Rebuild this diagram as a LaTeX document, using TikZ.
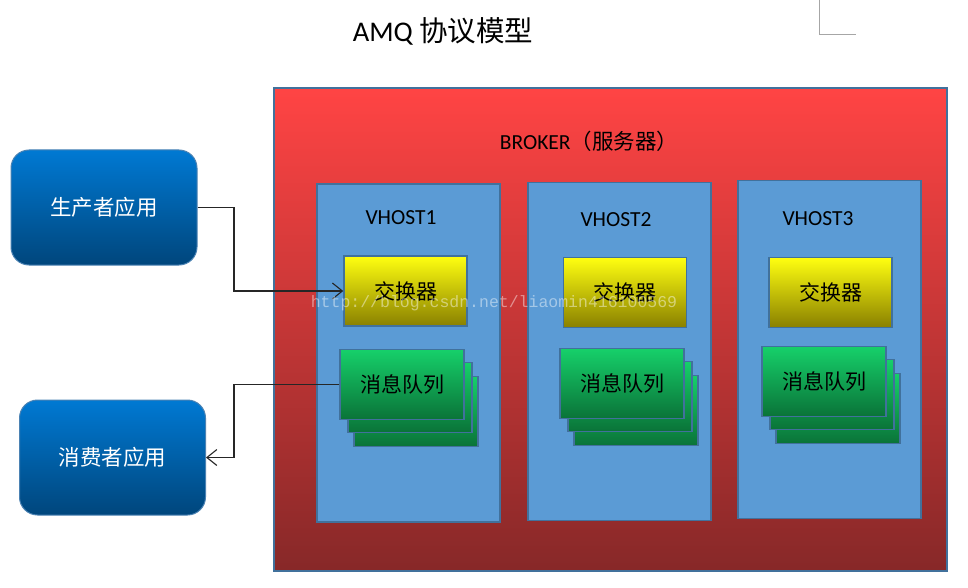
\documentclass[tikz,border=0pt]{standalone}
\usepackage{fontspec}
\setmainfont{Carlito}
\newfontfamily\cjk{Noto Sans CJK SC}
\newfontfamily\wmfont{Liberation Mono}
\usepackage{tikz}
\usepackage{xcolor}
\usetikzlibrary{arrows.meta, positioning, calc}

\definecolor{edgeblue}{HTML}{41719C}
\definecolor{hostblue}{HTML}{5B9BD5}

\begin{document}
\begin{tikzpicture}[x=1pt, y=-1pt,
    appbox/.style={draw=edgeblue!60!hostblue, line width=1pt, rounded corners=18pt,
        top color={rgb,255:red,0;green,121;blue,211}, bottom color={rgb,255:red,0;green,70;blue,124},
        minimum width=186pt, minimum height=115pt, text=white,
        font=\cjk\fontsize{21.5}{24}\selectfont},
    hostbox/.style={draw=edgeblue, line width=1.5pt, fill=hostblue,
        minimum width=183pt, minimum height=338pt},
    exbox/.style={draw=edgeblue, line width=1.5pt,
        top color={rgb,255:red,255;green,255;blue,16}, bottom color={rgb,255:red,137;green,128;blue,0},
        minimum width=123pt, minimum height=70pt, font=\cjk\fontsize{21}{24}\selectfont},
    qbox/.style={draw=edgeblue, line width=1.5pt,
        top color={rgb,255:red,22;green,208;blue,106}, bottom color={rgb,255:red,10;green,115;blue,56},
        minimum width=124pt, minimum height=70pt, font=\cjk\fontsize{21}{24}\selectfont},
    hostlabel/.style={font=\fontsize{21.5}{24}\selectfont},
    link/.style={draw=black!85, line width=1.1pt, -{Straight Barb[length=10pt,width=16pt]}}]
\useasboundingbox (0,0) rectangle (968,588);

% Title and page corner mark
\node (title) at (443,31) {\fontsize{28.5}{32}\selectfont AMQ {\cjk 协议模型}};
\draw[black!35, line width=1pt] (819,0) -- (819,35) -- (856,35);

% Broker
\node[draw=edgeblue, line width=1.5pt,
    top color={rgb,255:red,255;green,68;blue,68}, bottom color={rgb,255:red,135;green,40;blue,40},
    minimum width=673pt, minimum height=483pt] (broker) at (610.5,329.5) {};
\node[hostlabel] (brokerlabel) at (589,141) {BROKER{\cjk （服务器）}};

% Virtual hosts
\node[hostbox] (vhostA) at (408.5,353) {};
\node[hostbox] (vhostB) at (619.5,351.5) {};
\node[hostbox] (vhostC) at (829.5,349.5) {};
\node[hostlabel] (labelA) at (401,218) {VHOST1};
\node[hostlabel] (labelB) at (616,220) {VHOST2};
\node[hostlabel] (labelC) at (818,219) {VHOST3};

% Exchanges
\node[exbox] (exA) at (405.5,291) {交换器};
\node[exbox] (exB) at (625,292.5) {交换器};
\node[exbox] (exC) at (830.5,292.5) {交换器};

% Queues (stacked)
\node[qbox] (qA3) at (416,411.5) {};
\node[qbox] (qA2) at (410,397.5) {};
\node[qbox] (qA) at (402,384.5) {消息队列};
\node[qbox] (qB3) at (636,410.5) {};
\node[qbox] (qB2) at (630,396.5) {};
\node[qbox] (qB) at (622,383.5) {消息队列};
\node[qbox] (qC3) at (838,408.5) {};
\node[qbox] (qC2) at (832,394.5) {};
\node[qbox] (qC) at (824,381.5) {消息队列};

% Applications
\node[appbox] (producer) at (104,207.5) {生产者应用};
\node[appbox] (consumer) at (112.5,457.5) {消费者应用};

% Links
\draw[link] (producer.east) -- (234,207.5) |- (exA.west);
\draw[link] (qA.west) -- (234,384.5) |- (consumer.east);

% Watermark
\node[text=white, opacity=0.45, font=\wmfont\fontsize{16.5}{18}\selectfont] (mark) at (494,303)
    {http://blog.csdn.net/liaomin416100569};
\end{tikzpicture}
\end{document}
